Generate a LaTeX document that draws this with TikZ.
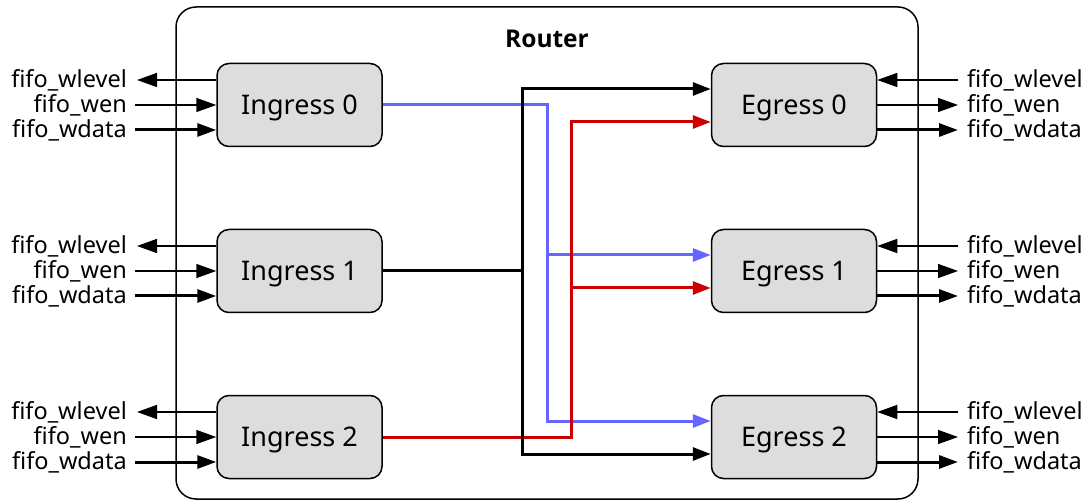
\documentclass[tikz,border=0pt]{standalone}
\usepackage{fontspec}
\setmainfont{Noto Sans}
\newfontfamily\titlefont{Open Sans}
\usetikzlibrary{arrows.meta}
\definecolor{busblue}{HTML}{6666FF}
\definecolor{busred}{HTML}{CC0000}
\definecolor{boxgray}{HTML}{DDDDDD}
\newcommand{\boxtext}[1]{\raisebox{-3pt}[\height][\depth]{#1}}
\tikzset{
  unit/.style={draw, line width=1.5pt, fill=boxgray, rounded corners=12pt,
    minimum width=165pt, minimum height=83pt, inner sep=0pt,
    font=\fontsize{27}{30}\selectfont},
  sig/.style={font=\fontsize{23.5}{25}\selectfont, inner sep=0pt},
  thin/.style={line width=1.5pt, -{Triangle[length=20pt,width=14pt]}},
  wide/.style={line width=3pt, -{Triangle[length=19pt,width=13pt]}},
  bus/.style={line width=3pt, -{Triangle[length=18pt,width=13pt]}},
}
\begin{document}
\begin{tikzpicture}[x=1pt,y=-1pt]
\useasboundingbox (0,0) rectangle (1089,502);
% enclosing router block
\node[draw, line width=1.5pt, rounded corners=20pt, minimum width=742pt,
  minimum height=492pt, inner sep=0pt] (router) at (547,253) {};
\node[font=\titlefont\bfseries\fontsize{24.5}{28}\selectfont] (title) at (547,39) {Router};
% ingress and egress ports
\foreach \i/\y in {0/105,1/271,2/437}{
  \node[unit] (in\i) at (299.5,\y) {\boxtext{Ingress \i}};
  \node[unit] (eg\i) at (794,\y) {\boxtext{Egress \i}};
  % left side FIFO signals
  \coordinate (lwl\i) at (137,\y-25);
  \coordinate (lwe\i) at (135,\y);
  \coordinate (lwd\i) at (135,\y+25);
  \node[sig, anchor=east] (tlwl\i) at (127,\y-25) {fifo\_wlevel};
  \node[sig, anchor=east] (tlwe\i) at (127,\y) {fifo\_wen};
  \node[sig, anchor=east] (tlwd\i) at (127,\y+25) {fifo\_wdata};
  \draw[thin] (in\i.west |- lwl\i) -- (lwl\i);
  \draw[thin] (lwe\i) -- (in\i.west |- lwe\i);
  \draw[wide] (lwd\i) -- (in\i.west |- lwd\i);
  % right side FIFO signals
  \coordinate (rwl\i) at (958,\y-25);
  \coordinate (rwe\i) at (958,\y);
  \coordinate (rwd\i) at (958,\y+25);
  \node[sig, anchor=west] (trwl\i) at (967,\y-25) {fifo\_wlevel};
  \node[sig, anchor=west] (trwe\i) at (967,\y) {fifo\_wen};
  \node[sig, anchor=west] (trwd\i) at (967,\y+25) {fifo\_wdata};
  \draw[thin] (rwl\i) -- (eg\i.east |- rwl\i);
  \draw[thin] (eg\i.east |- rwe\i) -- (rwe\i);
  \draw[wide] (eg\i.east |- rwd\i) -- (rwd\i);
  % two input taps per egress
  \coordinate (ea\i) at ([yshift=16pt]eg\i.west);
  \coordinate (eb\i) at ([yshift=-17pt]eg\i.west);
}
% crossbar columns
\coordinate (colk) at (522,0);
\coordinate (colb) at (547,0);
\coordinate (colr) at (571,0);
% Ingress 0 -> Egress 1, Egress 2
\draw[bus, busblue] (in0.east) -| (colb |- ea1) -- (ea1);
\draw[bus, busblue] (colb |- ea1) |- (ea2);
% Ingress 2 -> Egress 0, Egress 1
\draw[bus, busred] (in2.east) -| (colr |- eb0) -- (eb0);
\draw[bus, busred] (colr |- eb1) -- (eb1);
% Ingress 1 -> Egress 0, Egress 2
\draw[bus, black] (in1.east) -| (colk |- ea0) -- (ea0);
\draw[bus, black] (colk |- in1.east) |- (eb2);
\end{tikzpicture}
\end{document}
